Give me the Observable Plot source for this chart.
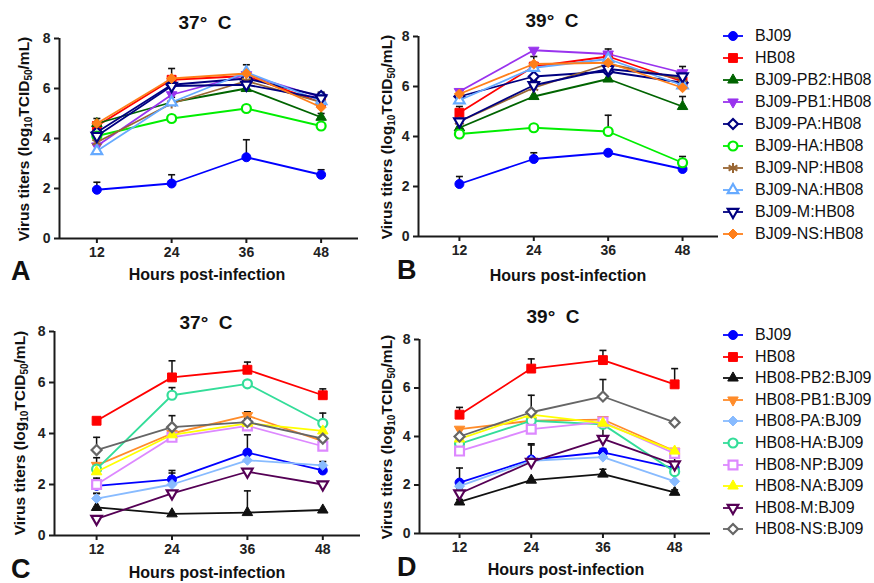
<!DOCTYPE html>
<html><head><meta charset="utf-8">
<script src="https://cdn.jsdelivr.net/npm/d3@7"></script>
<script src="https://cdn.jsdelivr.net/npm/@observablehq/plot@0.6"></script>
<style>
body{margin:0;background:#fff;}
#root{position:relative;width:874px;height:583px;overflow:hidden;font-family:"Liberation Sans",Arial,sans-serif;color:#111;background:#fff;}
.abs{position:absolute;white-space:pre;line-height:1;}
.title{font-weight:bold;font-size:19px;transform:translate(-50%,-50%);}
.xl{font-weight:bold;font-size:16px;transform:translate(-50%,-50%);}
.yl{font-weight:bold;font-size:15.5px;transform:translate(-50%,-50%) rotate(-90deg);}
.yl sub{font-size:10px;vertical-align:-3px;}
.letter{font-weight:bold;font-size:27px;transform:translate(0,-50%);}
.leg{position:absolute;display:flex;align-items:center;font-size:16px;transform:translateY(-50%);white-space:nowrap;}
.leg span{margin-left:12px;}
.plotbox{position:absolute;}
</style></head>
<body><div id="root"></div>
<script>
const hours = [12, 24, 36, 48];
const tempTitles = ["37°  C", "39°  C", "37°  C", "39°  C"];
const panelLetters = ["A", "B", "C", "D"];
const xLabel = "Hours post-infection";
const yTicks = [0, 2, 4, 6, 8];

// Top legend (panels A, B)
const seriesTop = ["BJ09", "HB08", "BJ09-PB2:HB08", "BJ09-PB1:HB08", "BJ09-PA:HB08", "BJ09-HA:HB08", "BJ09-NP:HB08", "BJ09-NA:HB08", "BJ09-M:HB08", "BJ09-NS:HB08"];
const colorsTop = ["#0000ff", "#ff0000", "#006400", "#9933ee", "#000080", "#00ee00", "#996633", "#66aaff", "#000080", "#ff7f1a"];
const symbolsTop = ["circle", "square", "triangle", "triangleDown", "diamond", "circle", "asterisk", "triangle", "triangleDown", "diamond"];
const openTop = [false, false, false, false, true, true, false, true, true, false];

// Bottom legend (panels C, D)
const seriesBot = ["BJ09", "HB08", "HB08-PB2:BJ09", "HB08-PB1:BJ09", "HB08-PA:BJ09", "HB08-HA:BJ09", "HB08-NP:BJ09", "HB08-NA:BJ09", "HB08-M:BJ09", "HB08-NS:BJ09"];
const colorsBot = ["#0000ff", "#ff0000", "#111111", "#ff8c2a", "#88bbff", "#33dd99", "#dd88ff", "#ffff00", "#550055", "#666666"];
const symbolsBot = ["circle", "square", "triangle", "triangleDown", "diamond", "circle", "square", "triangle", "triangleDown", "diamond"];
const openBot = [false, false, false, false, false, true, true, false, true, true];

// Panel A (37 °C), values at 12/24/36/48 h
const valuesA = [
  [1.95, 2.2, 3.25, 2.55],
  [4.5, 6.35, 6.5, 5.45],
  [4.6, 5.45, 6.0, 4.85],
  [3.7, 5.75, 6.55, 5.65],
  [4.25, 6.15, 6.4, 5.7],
  [4.1, 4.8, 5.2, 4.5],
  [3.85, 5.4, 6.3, 5.45],
  [3.5, 5.45, 6.65, 5.5],
  [4.1, 6.1, 6.15, 5.6],
  [4.6, 6.4, 6.6, 5.25]
];
const errorsA = [
  [0.3, 0.35, 0.7, 0.2],
  [0.15, 0.45, 0.15, 0.2],
  [0.2, 0.2, 0.3, 0.15],
  [0, 0, 0, 0],
  [0, 0, 0, 0.15],
  [0, 0, 0, 0],
  [0, 0, 0, 0],
  [0, 0, 0.3, 0],
  [0, 0, 0, 0],
  [0, 0, 0, 0]
];
// Panel B (39 °C)
const valuesB = [
  [2.1, 3.1, 3.35, 2.7],
  [4.95, 6.8, 7.2, 6.2],
  [4.35, 5.6, 6.3, 5.2],
  [5.8, 7.45, 7.3, 6.55],
  [5.6, 6.4, 6.6, 6.15],
  [4.1, 4.35, 4.2, 2.95],
  [4.6, 5.95, 6.9, 6.3],
  [5.45, 6.75, 7.1, 6.05],
  [4.6, 6.05, 6.7, 6.4],
  [5.7, 6.9, 6.95, 5.95]
];
const errorsB = [
  [0.3, 0.25, 0, 0.1],
  [0.25, 0.4, 0.3, 0.25],
  [0, 0, 0, 0.4],
  [0, 0, 0, 0],
  [0, 0, 0, 0],
  [0, 0, 0.65, 0.25],
  [0, 0, 0, 0],
  [0, 0, 0, 0],
  [0, 0.2, 0.2, 0.4],
  [0, 0, 0, 0]
];
// Panel C (37 °C)
const valuesC = [
  [1.95, 2.2, 3.25, 2.55],
  [4.5, 6.2, 6.5, 5.5],
  [1.1, 0.85, 0.9, 1.0],
  [2.75, 4.0, 4.7, 3.7],
  [1.45, 2.0, 2.95, 2.75],
  [2.6, 5.5, 5.95, 4.4],
  [2.0, 3.85, 4.3, 3.5],
  [2.5, 3.95, 4.4, 4.1],
  [0.65, 1.65, 2.5, 2.0],
  [3.35, 4.25, 4.45, 3.8]
];
const errorsC = [
  [0.3, 0.35, 0.7, 0.2],
  [0, 0.65, 0.3, 0.25],
  [0.55, 0, 0.85, 0],
  [0.3, 0.3, 0.15, 0],
  [0.2, 0.45, 0, 0.15],
  [0.2, 0.3, 0, 0.4],
  [0, 0, 0, 0],
  [0, 0, 0, 0],
  [0, 0, 0, 0],
  [0.5, 0.45, 0.15, 0]
];
// Panel D (39 °C)
const valuesD = [
  [2.1, 3.05, 3.35, 2.7],
  [4.9, 6.8, 7.15, 6.15],
  [1.3, 2.2, 2.45, 1.7],
  [4.3, 4.65, 4.7, 3.4],
  [1.95, 3.0, 3.15, 2.15],
  [3.7, 4.65, 4.5, 2.55],
  [3.4, 4.3, 4.6, 3.3],
  [3.9, 4.9, 4.55, 3.4],
  [1.65, 2.95, 3.9, 2.85],
  [4.0, 5.0, 5.65, 4.58]
];
const errorsD = [
  [0.6, 0.6, 0.15, 0.1],
  [0.3, 0.4, 0.4, 0.65],
  [0.1, 0, 0.2, 0.1],
  [0, 0, 0, 0],
  [0, 0, 0, 0],
  [0, 0, 0, 0],
  [0, 0, 0, 0],
  [0, 0, 0, 0],
  [0.2, 0.75, 0.55, 0.35],
  [0.3, 0.7, 0.7, 0]
];

// ---- symbols ----
const triangleDown = {
  draw(ctx, size) {
    const y = -Math.sqrt(size / (Math.sqrt(3) * 3));
    ctx.moveTo(0, -y * 2);
    ctx.lineTo(-Math.sqrt(3) * y, y);
    ctx.lineTo(Math.sqrt(3) * y, y);
    ctx.closePath();
  }
};
const capSymbol = { draw(ctx) { ctx.moveTo(-3.5, 0); ctx.lineTo(3.5, 0); } };
const symbolMap = {
  circle: d3.symbolCircle, square: d3.symbolSquare, triangle: d3.symbolTriangle,
  triangleDown, diamond: d3.symbolDiamond2, asterisk: d3.symbolAsterisk
};
const sizeMap = { circle: 4.5, square: 5.0, triangle: 3.9, triangleDown: 3.9, diamond: 4.5, asterisk: 4.8 };

const root = document.getElementById("root");

function panel(vals, errs, colors, symbols, open, o) {
  const marks = [
    Plot.ruleY([0], { stroke: "#1a1a1a", strokeWidth: 2 }),
    Plot.ruleX([o.domainX[0]], { stroke: "#1a1a1a", strokeWidth: 2 }),
    Plot.axisX({ ticks: hours, tickSize: 5, tickPadding: 4, strokeWidth: 2, stroke: "#1a1a1a", fill: "#222", fontSize: 14, fontWeight: "bold", label: null, tickFormat: d => String(d) }),
    Plot.axisY({ ticks: yTicks, tickSize: 5, tickPadding: 4, strokeWidth: 2, stroke: "#1a1a1a", fill: "#222", fontSize: 14, fontWeight: "bold", label: null })
  ];
  vals.forEach((v, i) => {
    const rows = hours.map((h, j) => ({ hour: h, v: v[j], e: errs[i][j] })).filter(d => d.e > 0);
    marks.push(Plot.ruleX(rows, { x: "hour", y1: "v", y2: d => d.v + d.e, stroke: "#111", strokeWidth: 1.5 }));
    marks.push(Plot.dot(rows, { x: "hour", y: d => d.v + d.e, symbol: capSymbol, r: 4, stroke: "#111", strokeWidth: 1.6, fill: "none" }));
  });
  vals.forEach((v, i) => {
    const rows = hours.map((h, j) => ({ hour: h, v: v[j] }));
    marks.push(Plot.line(rows, { x: "hour", y: "v", stroke: colors[i], strokeWidth: 1.8 }));
    const s = symbols[i];
    const isStroke = s === "asterisk";
    marks.push(Plot.dot(rows, {
      x: "hour", y: "v", symbol: symbolMap[s], r: sizeMap[s],
      fill: isStroke ? "none" : (open[i] ? "white" : colors[i]),
      stroke: colors[i], strokeWidth: open[i] ? 2.2 : (isStroke ? 2 : 1)
    }));
  });
  const svg = Plot.plot({
    width: o.w, height: o.h,
    marginLeft: o.ml, marginRight: o.mr, marginTop: o.mt, marginBottom: o.mb,
    x: { domain: o.domainX, label: null },
    y: { domain: [0, 8], label: null },
    style: { background: "transparent", fontFamily: "'Liberation Sans', Arial, sans-serif", overflow: "visible", maxWidth: "none" },
    marks
  });
  const box = document.createElement("div");
  box.className = "plotbox";
  box.style.left = o.left + "px";
  box.style.top = o.top + "px";
  box.appendChild(svg);
  root.appendChild(box);
}

function addText(cls, html, x, y) {
  const d = document.createElement("div");
  d.className = "abs " + cls;
  d.innerHTML = html;
  d.style.left = x + "px";
  d.style.top = y + "px";
  root.appendChild(d);
}

panel(valuesA, errorsA, colorsTop, symbolsTop, openTop, { left: 0, top: 0, w: 370, h: 290, ml: 59, mr: 12, mt: 38, mb: 52, domainX: [6, 54] });
panel(valuesB, errorsB, colorsTop, symbolsTop, openTop, { left: 370, top: 0, w: 360, h: 290, ml: 48, mr: 12, mt: 36, mb: 54, domainX: [5.4, 53.8] });
panel(valuesC, errorsC, colorsBot, symbolsBot, openBot, { left: 0, top: 290, w: 370, h: 293, ml: 54, mr: 10, mt: 41, mb: 48, domainX: [5.3, 54] });
panel(valuesD, errorsD, colorsBot, symbolsBot, openBot, { left: 370, top: 290, w: 350, h: 293, ml: 49, mr: 10, mt: 49, mb: 50, domainX: [5.3, 54] });

const yLabelHtml = "Virus titers (log<sub>10</sub>TCID<sub>50</sub>/mL)";
const titlePos = [[205, 22], [552, 20], [206, 322], [553, 316]];
const xlPos = [[207, 275], [568, 276], [207, 573], [566, 570]];
const ylPos = [[25, 139], [388, 137], [21, 433], [388, 437]];
const letterPos = [[11, 271], [397, 270], [11, 569], [397, 567]];
for (let i = 0; i < 4; i++) {
  addText("title", tempTitles[i], titlePos[i][0], titlePos[i][1]);
  addText("xl", xLabel, xlPos[i][0], xlPos[i][1]);
  addText("yl", yLabelHtml, ylPos[i][0], ylPos[i][1]);
  addText("letter", panelLetters[i], letterPos[i][0], letterPos[i][1]);
}

function legend(names, colors, symbols, open, x, y0, step) {
  names.forEach((n, i) => {
    const d = document.createElement("div");
    d.className = "leg";
    d.style.left = x + "px";
    d.style.top = (y0 + i * step) + "px";
    const s = symbols[i];
    const r = sizeMap[s];
    const path = d3.symbol(symbolMap[s], r * r * Math.PI)();
    const isStroke = s === "asterisk";
    const fill = isStroke ? "none" : (open[i] ? "white" : colors[i]);
    const sw = open[i] ? 2.2 : (isStroke ? 2 : 1);
    d.innerHTML = `<svg width="20" height="14" style="overflow:visible"><line x1="0" x2="20" y1="7" y2="7" stroke="${colors[i]}" stroke-width="1.8"/><path transform="translate(10,7)" d="${path}" fill="${fill}" stroke="${colors[i]}" stroke-width="${sw}"/></svg><span>${n}</span>`;
    root.appendChild(d);
  });
}
legend(seriesTop, colorsTop, symbolsTop, openTop, 723, 36, 22);
legend(seriesBot, colorsBot, symbolsBot, openBot, 723, 335, 21.6);
</script></body></html>
